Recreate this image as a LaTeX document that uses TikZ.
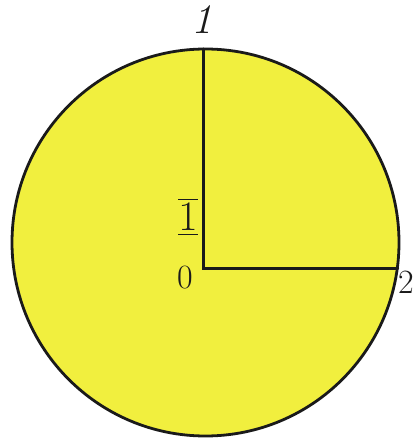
\RequirePackage{fix-cm}
\documentclass[tikz,border=0pt]{standalone}
\usepackage{amsmath}
\usepackage{tikz}
\usetikzlibrary{positioning,calc}
\definecolor{discyellow}{HTML}{F1EF3E}
\definecolor{inkblack}{HTML}{1A1A1A}

\begin{document}
\begin{tikzpicture}[
  x=1pt,y=-1pt,
  rim/.style={draw=inkblack,line width=2.8pt,fill=discyellow},
  radius line/.style={draw=inkblack,line width=3pt,line cap=round},
  every node/.style={font=\fontsize{34}{38}\selectfont,text=inkblack,inner sep=0pt},
  big label/.style={font=\fontsize{42}{46}\selectfont}
]
\useasboundingbox (0,0) rectangle (417,446);
\coordinate (C) at (205.5,242.5);
\draw[rim] (C) circle[radius=193.5];
\coordinate (O) at (203,268);
\coordinate (top) at (203,49);
\coordinate (end) at (397.5,268);
\draw[radius line] (top)--(O)--(end);
\node[big label] (lone) at (202,20) {\itshape 1};
\node (lzero) at (185,278) {0};
\node (ltwo) at (406,282) {2};
\node[big label] (unit) at (188,217) {$\overline{\underline{1}}$};
\end{tikzpicture}
\end{document}
